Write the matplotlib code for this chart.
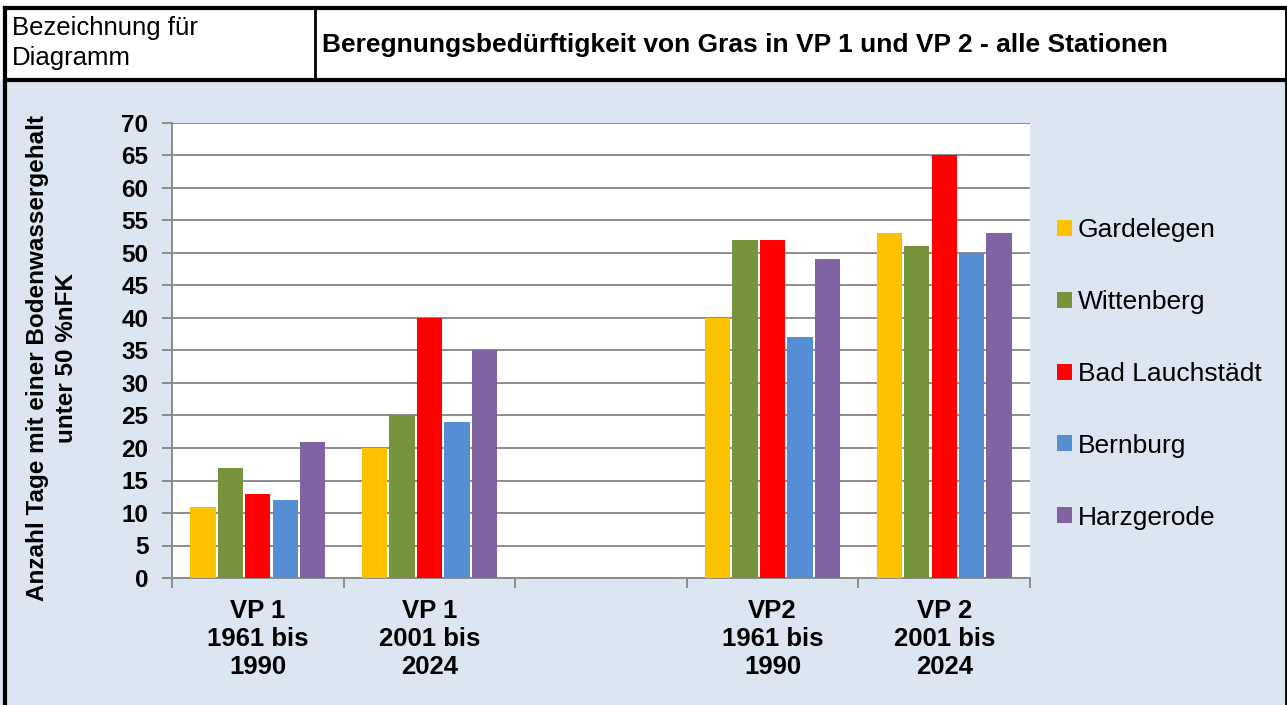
import numpy as np
import matplotlib
matplotlib.use('Agg')
import matplotlib.pyplot as plt
from matplotlib.patches import Rectangle
from matplotlib.lines import Line2D

plt.rcParams['font.family'] = ['Liberation Sans', 'DejaVu Sans']

categories = ['VP 1\n1961 bis\n1990', 'VP 1\n2001 bis\n2024', '', 'VP2\n1961 bis\n1990', 'VP 2\n2001 bis\n2024']
stations = ['Gardelegen', 'Wittenberg', 'Bad Lauchstädt', 'Bernburg', 'Harzgerode']
colors = ['#FFC000', '#77933C', '#FF0000', '#558ED5', '#8064A2']
# one list per station, one entry per category (the empty slot is NaN)
gardelegen = [11, 20, np.nan, 40, 53]
wittenberg = [17, 25, np.nan, 52, 51]
bad_lauchstaedt = [13, 40, np.nan, 52, 65]
bernburg = [12, 24, np.nan, 37, 50]
harzgerode = [21, 35, np.nan, 49, 53]
values = [gardelegen, wittenberg, bad_lauchstaedt, bernburg, harzgerode]

W, H = 1287, 705
fig = plt.figure(figsize=(W / 100, H / 100), dpi=100)
fig.patch.set_facecolor('white')

# blue background of the chart cell
fig.add_artist(Rectangle((0, 0), 1, 1 - 81 / H, transform=fig.transFigure,
                         facecolor='#DCE6F2', edgecolor='none', zorder=0))

def px(x, y):
    return x / W, 1 - y / H

# table borders
for (x0, y0), (x1, y1), lw in [((5, 8), (1286, 8), 3),
                               ((5, 80), (1286, 80), 3),
                               ((5, 8), (5, 705), 3),
                               ((1286, 8), (1286, 705), 2),
                               ((315, 8), (315, 80), 2)]:
    a, b = px(x0, y0)
    c, d = px(x1, y1)
    fig.add_artist(Line2D([a, c], [b, d], transform=fig.transFigure,
                          color='black', lw=lw, zorder=5))

fig.text(*px(12, 43), 'Bezeichnung für\nDiagramm', fontsize=18.5, va='center',
         ha='left', linespacing=1.3)
fig.text(*px(322, 45), 'Beregnungsbedürftigkeit von Gras in VP 1 und VP 2 - alle Stationen',
         fontsize=19, fontweight='bold', va='center', ha='left')

ax = fig.add_axes([172 / W, 1 - 578 / H, (1030 - 172) / W, (578 - 123) / H])
ax.set_facecolor('white')

x = np.arange(len(categories))
pitch = 0.16
for i, (name, vals, col) in enumerate(zip(stations, values, colors)):
    ax.bar(x + (i - 2) * pitch, vals, width=pitch - 0.012, color=col,
           label=name, zorder=3)

ax.set_xlim(-0.5, len(categories) - 0.5)
ax.set_ylim(0, 70)
ax.set_yticks(np.arange(0, 71, 5))
ax.yaxis.grid(True, color='#8C8C8C', lw=1.4, zorder=1)
ax.set_axisbelow(True)

ax.set_xticks(x)
ax.set_xticklabels(categories, fontsize=18.5, fontweight='bold', linespacing=1.22)
ax.set_xticks(np.arange(-0.5, len(categories)), minor=True)
ax.tick_params(axis='x', which='major', length=0, pad=15)
ax.tick_params(axis='x', which='minor', length=7, width=1.4, color='#8C8C8C')
ax.tick_params(axis='y', length=7, width=1.4, color='#8C8C8C', labelsize=17.5, pad=10)
for lab in ax.get_yticklabels():
    lab.set_fontweight('bold')

for s in ['top', 'right']:
    ax.spines[s].set_visible(False)
for s in ['left', 'bottom']:
    ax.spines[s].set_color('#8C8C8C')
    ax.spines[s].set_linewidth(1.4)

fig.text(*px(52, 358), 'Anzahl Tage mit einer Bodenwassergehalt\nunter 50 %nFK',
         rotation=90, fontsize=17.5, fontweight='bold', ha='center', va='center',
         linespacing=1.28)

fig.legend(loc='center left', bbox_to_anchor=(1057 / W, 1 - 374 / H),
           frameon=False, fontsize=19, labelspacing=1.81, handlelength=0.55,
           handleheight=0.55, handletextpad=0.25, borderpad=0, borderaxespad=0)

fig.savefig('out.png', dpi=100)
